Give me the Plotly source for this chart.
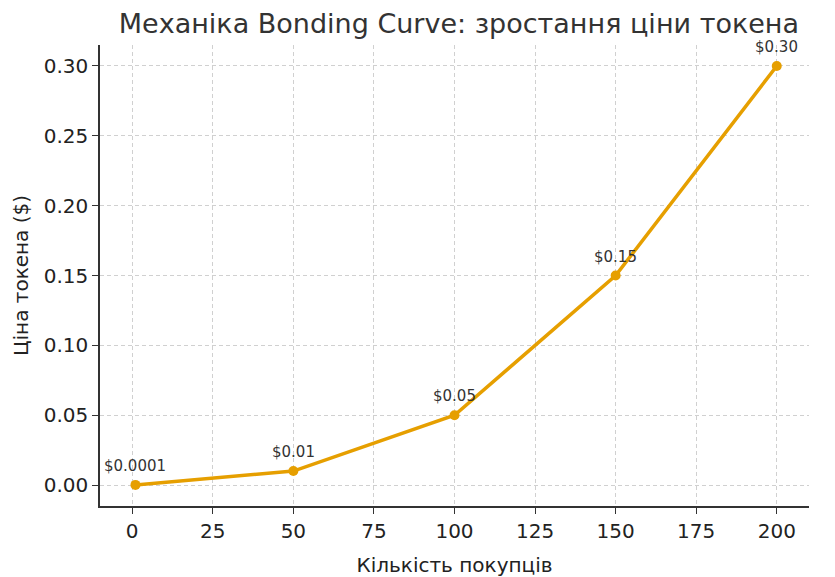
import plotly.graph_objects as go

buyers = [1, 50, 100, 150, 200]
prices = [0.0001, 0.01, 0.05, 0.15, 0.30]
labels = ["$0.0001", "$0.01", "$0.05", "$0.15", "$0.30"]

fig = go.Figure(go.Scatter(
    x=buyers, y=prices, mode="lines+markers",
    line=dict(color="#E69F00", width=3.5),
    marker=dict(color="#E69F00", size=10),
    cliponaxis=False,
))
for x, y, t in zip(buyers, prices, labels):
    fig.add_annotation(x=x, y=y, text=t, showarrow=False, yshift=19,
                       font=dict(family="DejaVu Sans", size=15, color="#333333"))
axis_common = dict(showgrid=True, gridcolor="#d0d0d0", griddash="4px,3px", gridwidth=1,
                   showline=True, linecolor="#333333", linewidth=1.5,
                   ticks="outside", ticklen=6, tickcolor="#333333",
                   tickfont=dict(family="DejaVu Sans", size=20, color="#222222"),
                   zeroline=False, mirror=False)
fig.update_xaxes(range=[-10, 210], tickvals=list(range(0, 201, 25)),
                 title=dict(text="Кількість покупців", font=dict(family="DejaVu Sans", size=20, color="#222222"), standoff=16),
                 **axis_common)
fig.update_yaxes(range=[-0.015, 0.315], tickvals=[0, 0.05, 0.10, 0.15, 0.20, 0.25, 0.30],
                 tickformat=".2f",
                 title=dict(text="Ціна токена ($)", font=dict(family="DejaVu Sans", size=20, color="#222222"), standoff=10),
                 **axis_common)
fig.update_layout(
    width=835, height=577, plot_bgcolor="white", paper_bgcolor="white",
    margin=dict(l=91, r=34, t=37, b=75),
    showlegend=False,
    title=dict(text="Механіка Bonding Curve: зростання ціни токена", x=0.54, xanchor="center",
               y=0.99, yanchor="top",
               font=dict(family="DejaVu Sans", size=27, color="#333333")),
)
fig.write_html("out.html")
